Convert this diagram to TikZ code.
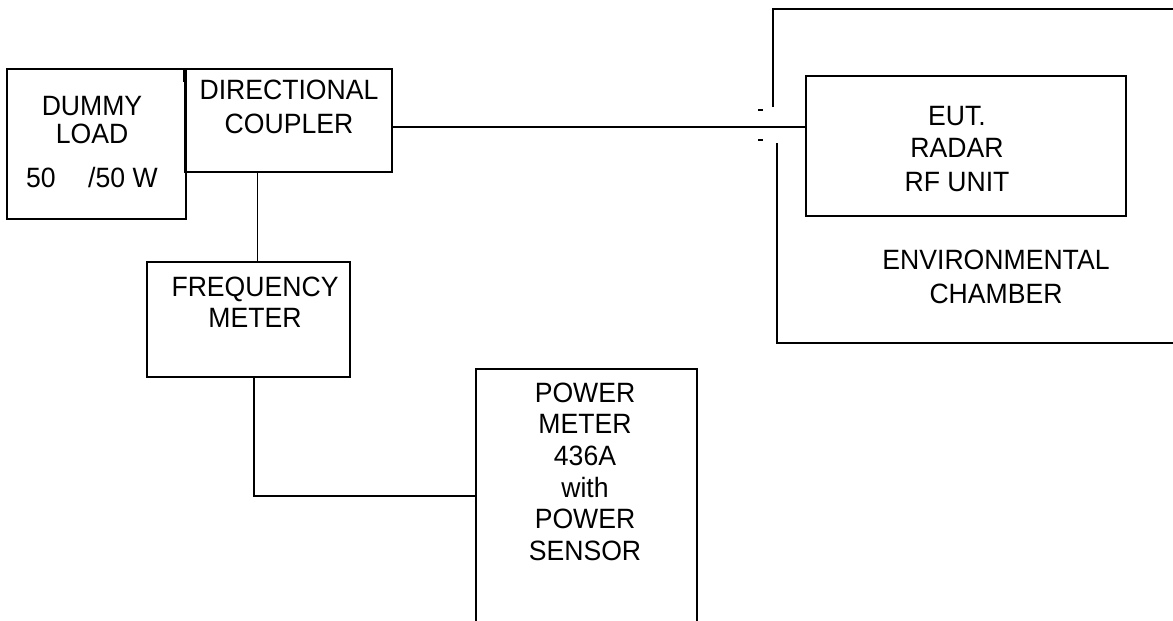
\documentclass[tikz,border=0pt]{standalone}
\usepackage{fontspec}
\setmainfont{Liberation Sans}
\newcommand\tallt[1]{\scalebox{1}[1.05]{#1}}
\begin{document}
\begin{tikzpicture}[x=1pt,y=-1pt,
  box/.style={draw, line width=1.6pt, rectangle, inner sep=0pt, outer sep=0pt},
  lbl/.style={anchor=base, inner sep=0pt, font=\fontsize{26.6}{31.6}\selectfont},
  lblw/.style={anchor=base west, inner sep=0pt, font=\fontsize{26.6}{31.6}\selectfont},
  wire/.style={line width=1.6pt},
  thin/.style={line width=0.9pt}]
\useasboundingbox (0,0) rectangle (1173,621);
\clip (0,0) rectangle (1173,621);
% boxes
\node[box, minimum width=179pt, minimum height=150pt] (dummy) at (96.5,144) {};
\node[box, minimum width=207pt, minimum height=103pt] (coupler) at (288.5,120.5) {};
\node[box, minimum width=203pt, minimum height=115pt] (freq) at (248.5,319.5) {};
\node[box, minimum width=221pt, minimum height=290pt] (power) at (586.5,514) {};
\node[box, minimum width=320pt, minimum height=140pt] (eut) at (966,146) {};
\draw[wire] (183.5,69) -- (183.5,82);
% labels
\node[lbl] (t1) at (92,115) {\tallt{DUMMY}};
\node[lbl] (t2) at (92,143) {\tallt{LOAD}};
\node[lblw] (t3) at (26,187) {\tallt{50}};
\node[lblw] (t4) at (88,187) {\tallt{/50 W}};
\node[lbl] (t5) at (289,99) {\tallt{DIRECTIONAL}};
\node[lbl] (t6) at (289,133) {\tallt{COUPLER}};
\node[lbl] (t7) at (255,296) {\tallt{FREQUENCY}};
\node[lbl] (t8) at (255,327) {\tallt{METER}};
\node[lbl] (p1) at (585,402) {\tallt{POWER}};
\node[lbl] (p2) at (585,433) {\tallt{METER}};
\node[lbl] (p3) at (585,465) {\tallt{436A}};
\node[lbl] (p4) at (585,497) {\tallt{with}};
\node[lbl] (p5) at (585,528) {\tallt{POWER}};
\node[lbl] (p6) at (585,560) {\tallt{SENSOR}};
\node[lbl] (e1) at (957,125) {\tallt{EUT.}};
\node[lbl] (e2) at (957,157) {\tallt{RADAR}};
\node[lbl] (e3) at (957,191) {\tallt{RF UNIT}};
\node[lbl] (c1) at (996,269) {\tallt{ENVIRONMENTAL}};
\node[lbl] (c2) at (996,303) {\tallt{CHAMBER}};
% connectors
\draw[wire] (coupler.east |- 0,127) -- (eut.west |- 0,127);
\draw[thin] (257,0 |- coupler.south) -- (257,0 |- freq.north);
\coordinate (bend) at (254,496);
\draw[wire] (254,0 |- freq.south) -- (bend) -- (power.west |- bend);
% environmental chamber
\draw[wire] (773,107) -- (773,9) -- (1180,9);
\draw[wire] (777,143) -- (777,343) -- (1180,343);
\draw[line width=1.2pt] (758,110) -- (763,110);
\draw[line width=1.2pt] (758,140) -- (763,140);
\end{tikzpicture}
\end{document}
